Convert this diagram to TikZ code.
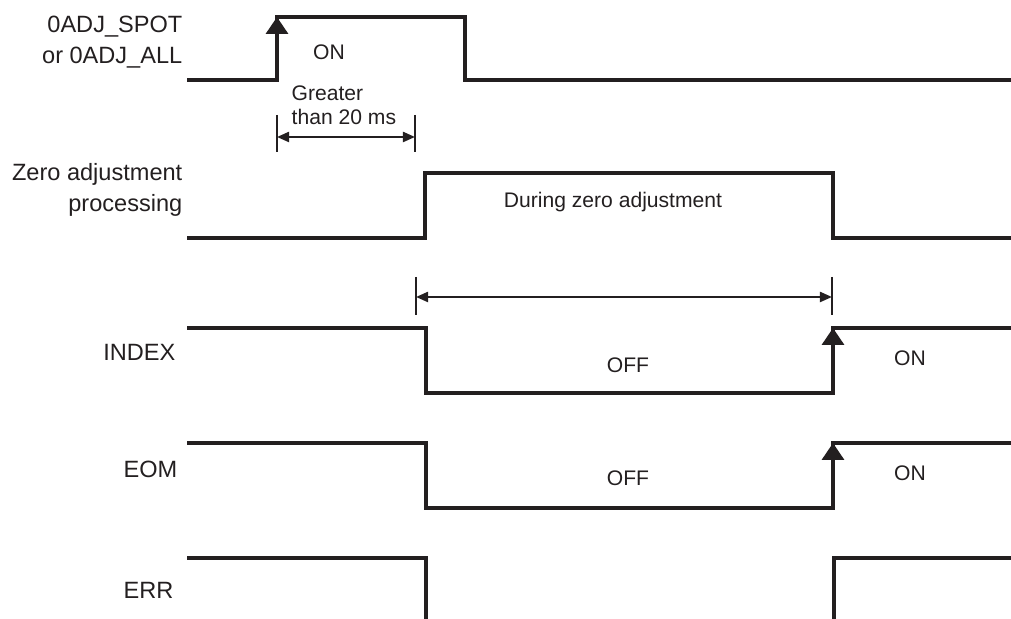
\documentclass[tikz,border=0pt]{standalone}
\usepackage{fontspec}
\setmainfont{Liberation Sans}
\usetikzlibrary{arrows.meta}
\definecolor{ink}{HTML}{231F20}

\begin{document}
\begin{tikzpicture}[x=0.01cm, y=-0.01cm, ink,
    signal/.style={line width=0.95pt, line join=miter},
    edgeup/.style={line width=0.95pt, -{Triangle[length=0.17cm, width=0.22cm]}},
    dimline/.style={line width=0.6pt, {Triangle[length=0.12cm, width=0.1cm]}-{Triangle[length=0.12cm, width=0.1cm]}},
    dimtick/.style={line width=0.6pt},
    signame/.style={anchor=east, align=right, inner sep=0pt, font=\fontsize{6.7}{8.8}\selectfont},
    sigstate/.style={inner sep=0pt, font=\fontsize{6}{6.8}\selectfont}]

    % Frame
    \useasboundingbox (0,0) rectangle (1011,619);

    % Signal names
    \node[signame] (adj) at (183,42) {0ADJ\_SPOT\\or 0ADJ\_ALL};
    \node[signame] (proc) at (183,190) {Zero adjustment\\processing};
    \node[signame] (index) at (176,352) {INDEX};
    \node[signame] (eom) at (178,469) {EOM};
    \node[signame] (err) at (174,590) {ERR};

    % Waveforms
    \draw[signal] (187,80) -- (277,80) -- (277,17) -- (465,17) -- (465,80) -- (1011,80);
    \draw[edgeup] (277,50) -- (277,17);
    \draw[signal] (187,238) -- (425,238) -- (425,173) -- (833,173) -- (833,238) -- (1011,238);
    \draw[signal] (187,328) -- (426,328) -- (426,393) -- (833,393) -- (833,328) -- (1011,328);
    \draw[edgeup] (833,360) -- (833,328);
    \draw[signal] (187,443) -- (426,443) -- (426,508) -- (833,508) -- (833,443) -- (1011,443);
    \draw[edgeup] (833,475) -- (833,443);
    \draw[signal] (187,558) -- (426,558) -- (426,619);
    \draw[signal] (834,619) -- (834,558) -- (1011,558);

    % Timing marks
    \coordinate (ta) at (277,137);
    \coordinate (tb) at (415,137);
    \coordinate (tc) at (416,297);
    \coordinate (td) at (832,297);
    \draw[dimtick] (277,115) -- (277,152);
    \draw[dimtick] (415,115) -- (415,152);
    \draw[dimline] (ta) -- (tb);
    \draw[dimtick] (416,277) -- (416,315);
    \draw[dimtick] (832,277) -- (832,315);
    \draw[dimline] (tc) -- (td);

    % Labels
    \node[sigstate] (on1) at (329,52) {ON};
    \node[sigstate, align=left, anchor=west] (gt) at (291,105) {Greater\\than 20 ms};
    \node[sigstate] (during) at (613,202) {During zero adjustment};
    \node[sigstate] (off1) at (628,365) {OFF};
    \node[sigstate] (on2) at (910,358) {ON};
    \node[sigstate] (off2) at (628,478) {OFF};
    \node[sigstate] (on3) at (910,473) {ON};
\end{tikzpicture}
\end{document}
